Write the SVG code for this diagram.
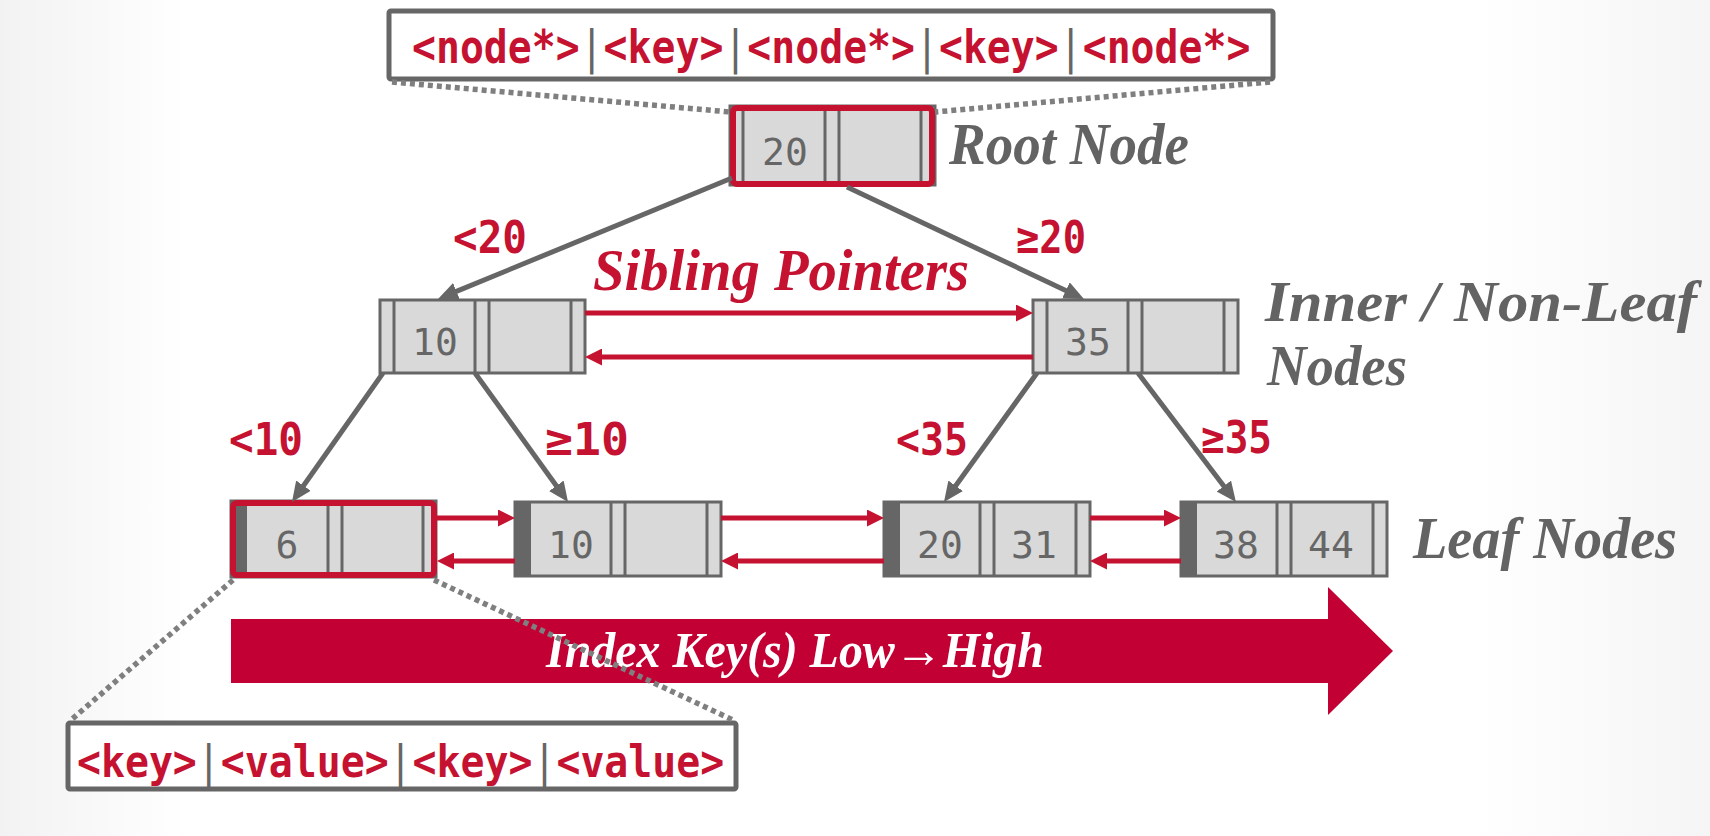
<svg xmlns="http://www.w3.org/2000/svg" width="1710" height="836" viewBox="0 0 1710 836">
  <defs>
    <linearGradient id="bg" x1="0" y1="0" x2="1" y2="0">
      <stop offset="0" stop-color="#f2f2f2"/>
      <stop offset="0.11" stop-color="#ffffff"/>
      <stop offset="0.86" stop-color="#ffffff"/>
      <stop offset="1" stop-color="#f5f5f5"/>
    </linearGradient>
    <marker id="arrow-gray" markerUnits="userSpaceOnUse" markerWidth="20" markerHeight="18" refX="8" refY="9" orient="auto">
      <path d="M0,0 L20,9 L0,18 Z" fill="#666"/>
    </marker>
    <marker id="arrow-red" markerUnits="userSpaceOnUse" markerWidth="17" markerHeight="17" refX="7" refY="8.5" orient="auto">
      <path d="M0,0 L17,8.5 L0,17 Z" fill="#c41230"/>
    </marker>
  </defs>
  <style>
    .body { fill: #d9d9d9; stroke: #666; stroke-width: 3; }
    .div { stroke: #666; stroke-width: 3; }
    .strip { fill: #666; }
    .hl { fill: none; stroke: #c41230; stroke-width: 6; }
    .key { font-family: "DejaVu Sans Mono", monospace; font-size: 38px; fill: #666; text-anchor: middle; }
    .cond { font-family: "DejaVu Sans Mono", monospace; font-weight: bold; font-size: 44px; fill: #c41230; }
    .fmt { font-family: "DejaVu Sans Mono", monospace; font-weight: bold; fill: #c41230; }
    .bar { fill: #666; font-weight: normal; }
    .title { font-family: "Liberation Serif", serif; font-style: italic; font-weight: bold; font-size: 60px; fill: #636363; }
    .tree { stroke: #666; stroke-width: 5; fill: none; marker-end: url(#arrow-gray); }
    .sib { stroke: #c41230; stroke-width: 5; fill: none; marker-end: url(#arrow-red); }
    .dots { stroke: #7f7f7f; stroke-width: 5.5; stroke-dasharray: 5 4; fill: none; }
    .box { fill: #fff; stroke: #666; stroke-width: 5; }
  </style>

  <rect width="1710" height="836" fill="url(#bg)"/>

  <!-- inner node layout: pointer/key/pointer/key/pointer -->
  <g id="node-layout">
    <rect class="box" x="389" y="11" width="884" height="68" rx="2"/>
    <text class="fmt" transform="translate(412,63) scale(0.865,1)" font-size="46">&lt;node*&gt;<tspan class="bar">|</tspan>&lt;key&gt;<tspan class="bar">|</tspan>&lt;node*&gt;<tspan class="bar">|</tspan>&lt;key&gt;<tspan class="bar">|</tspan>&lt;node*&gt;</text>
  </g>

  <!-- root -->
  <g id="root-node">
    <rect class="body" x="730" y="106" width="205" height="79"/>
    <line class="div" x1="743" y1="106" x2="743" y2="185"/>
    <line class="div" x1="825" y1="106" x2="825" y2="185"/>
    <line class="div" x1="839" y1="106" x2="839" y2="185"/>
    <line class="div" x1="921" y1="106" x2="921" y2="185"/>
    <rect class="hl" x="733" y="108" width="199" height="76" rx="4"/>
    <text class="key" x="785" y="165">20</text>
  </g>

  <!-- inner nodes -->
  <g id="inner-10">
    <rect class="body" x="380" y="300" width="205" height="73"/>
    <line class="div" x1="394" y1="300" x2="394" y2="373"/>
    <line class="div" x1="475" y1="300" x2="475" y2="373"/>
    <line class="div" x1="489" y1="300" x2="489" y2="373"/>
    <line class="div" x1="571" y1="300" x2="571" y2="373"/>
    <text class="key" x="435" y="355">10</text>
  </g>
  <g id="inner-35">
    <rect class="body" x="1033" y="300" width="205" height="73"/>
    <line class="div" x1="1047" y1="300" x2="1047" y2="373"/>
    <line class="div" x1="1128" y1="300" x2="1128" y2="373"/>
    <line class="div" x1="1142" y1="300" x2="1142" y2="373"/>
    <line class="div" x1="1224" y1="300" x2="1224" y2="373"/>
    <text class="key" x="1088" y="355">35</text>
  </g>

  <!-- leaf nodes -->
  <g id="leaf-6">
    <rect class="body" x="231" y="501" width="205" height="76"/>
    <rect class="strip" x="231" y="501" width="16" height="76"/>
    <line class="div" x1="328" y1="501" x2="328" y2="577"/>
    <line class="div" x1="342" y1="501" x2="342" y2="577"/>
    <line class="div" x1="423" y1="501" x2="423" y2="577"/>
    <rect class="hl" x="233" y="503" width="201" height="72" rx="4"/>
    <text class="key" x="287" y="558">6</text>
  </g>
  <g id="leaf-10">
    <rect class="body" x="515" y="502" width="206" height="74"/>
    <rect class="strip" x="515" y="502" width="16" height="74"/>
    <line class="div" x1="611" y1="502" x2="611" y2="576"/>
    <line class="div" x1="625" y1="502" x2="625" y2="576"/>
    <line class="div" x1="707" y1="502" x2="707" y2="576"/>
    <text class="key" x="571" y="558">10</text>
  </g>
  <g id="leaf-20-31">
    <rect class="body" x="884" y="502" width="206" height="74"/>
    <rect class="strip" x="884" y="502" width="16" height="74"/>
    <line class="div" x1="980" y1="502" x2="980" y2="576"/>
    <line class="div" x1="994" y1="502" x2="994" y2="576"/>
    <line class="div" x1="1076" y1="502" x2="1076" y2="576"/>
    <text class="key" x="940" y="558">20</text>
    <text class="key" x="1034" y="558">31</text>
  </g>
  <g id="leaf-38-44">
    <rect class="body" x="1181" y="502" width="206" height="74"/>
    <rect class="strip" x="1181" y="502" width="16" height="74"/>
    <line class="div" x1="1277" y1="502" x2="1277" y2="576"/>
    <line class="div" x1="1291" y1="502" x2="1291" y2="576"/>
    <line class="div" x1="1373" y1="502" x2="1373" y2="576"/>
    <text class="key" x="1236" y="558">38</text>
    <text class="key" x="1331" y="558">44</text>
  </g>

  <!-- level captions -->
  <g id="captions">
    <text class="title" x="949" y="164" textLength="240" lengthAdjust="spacingAndGlyphs">Root Node</text>
    <text class="title" x="1265" y="321" style="font-size:58px" textLength="432" lengthAdjust="spacingAndGlyphs">Inner / Non-Leaf</text>
    <text class="title" x="1267" y="385" style="font-size:58px" textLength="140" lengthAdjust="spacingAndGlyphs">Nodes</text>
    <text class="title" x="1413" y="558" textLength="264" lengthAdjust="spacingAndGlyphs">Leaf Nodes</text>
    <text class="title" x="593" y="290" style="fill:#c41230" textLength="376" lengthAdjust="spacingAndGlyphs">Sibling Pointers</text>
  </g>

  <!-- key order band -->
  <g id="key-order">
    <polygon points="231,619 1328,619 1328,587 1393,651 1328,715 1328,683 231,683" fill="#c20034"/>
    <text x="546" y="667" font-family="Liberation Serif, serif" font-style="italic" font-weight="bold" font-size="50" fill="#fff" textLength="498" lengthAdjust="spacingAndGlyphs">Index Key(s) Low→High</text>
  </g>

  <g id="connectors">
    <!-- child pointers -->
    <line class="tree" x1="732" y1="178" x2="449.1" y2="294.4"/>
    <line class="tree" x1="847" y1="187" x2="1073.1" y2="293.9"/>
    <line class="tree" x1="383" y1="373" x2="298.9" y2="492.2"/>
    <line class="tree" x1="475" y1="373" x2="561.0" y2="492.3"/>
    <line class="tree" x1="1037" y1="373" x2="951.0" y2="492.3"/>
    <line class="tree" x1="1138" y1="373" x2="1228.7" y2="492.4"/>
    <!-- sibling pointers -->
    <line class="sib" x1="585" y1="313" x2="1023" y2="313"/>
    <line class="sib" x1="1033" y1="357" x2="595" y2="357"/>
    <line class="sib" x1="437" y1="518" x2="505" y2="518"/>
    <line class="sib" x1="515" y1="561" x2="447" y2="561"/>
    <line class="sib" x1="721" y1="518" x2="874" y2="518"/>
    <line class="sib" x1="884" y1="561" x2="731" y2="561"/>
    <line class="sib" x1="1090" y1="518" x2="1171" y2="518"/>
    <line class="sib" x1="1181" y1="561" x2="1100" y2="561"/>
    <!-- branch conditions -->
    <text class="cond" x="453" y="253" textLength="74" lengthAdjust="spacingAndGlyphs">&lt;20</text>
    <text class="cond" x="1016" y="253" textLength="70" lengthAdjust="spacingAndGlyphs">≥20</text>
    <text class="cond" x="229" y="455" textLength="74" lengthAdjust="spacingAndGlyphs">&lt;10</text>
    <text class="cond" x="545" y="455" textLength="84" lengthAdjust="spacingAndGlyphs">≥10</text>
    <text class="cond" x="896" y="455" textLength="72" lengthAdjust="spacingAndGlyphs">&lt;35</text>
    <text class="cond" x="1201" y="453" textLength="71" lengthAdjust="spacingAndGlyphs">≥35</text>
  </g>

  <!-- leaf node layout: key/value pairs -->
  <g id="leaf-layout">
    <rect class="box" x="68" y="723" width="668" height="66" rx="2"/>
    <text class="fmt" transform="translate(77,777) scale(0.905,1)" font-size="44">&lt;key&gt;<tspan class="bar">|</tspan>&lt;value&gt;<tspan class="bar">|</tspan>&lt;key&gt;<tspan class="bar">|</tspan>&lt;value&gt;</text>
  </g>

  <!-- callout guides -->
  <g id="callouts">
    <line class="dots" x1="392" y1="82" x2="730" y2="112"/>
    <line class="dots" x1="1270" y1="82" x2="935" y2="112"/>
    <line class="dots" x1="233" y1="580" x2="71" y2="720"/>
    <line class="dots" x1="434" y1="580" x2="733" y2="720"/>
  </g>
</svg>
